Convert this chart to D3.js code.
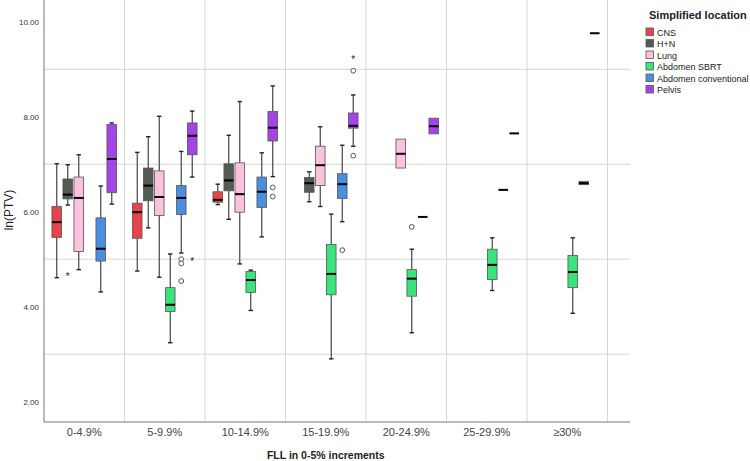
<!DOCTYPE html>
<html>
<head>
<meta charset="utf-8">
<script src="https://cdn.jsdelivr.net/npm/d3@7"></script>
<style>
  body { margin: 0; background: #fff; }
  svg { display: block; font-family: "Liberation Sans", Arial, sans-serif; }
</style>
</head>
<body>
<div id="chart"></div>
<script>
// categories on the x axis
var categories = ["0-4.9%", "5-9.9%", "10-14.9%", "15-19.9%", "20-24.9%", "25-29.9%", "\u226530%"];
var seriesNames = ["CNS", "H+N", "Lung", "Abdomen SBRT", "Abdomen conventional", "Pelvis"];
var seriesColors = ["#e8434a", "#525b56", "#fbc1de", "#3be37b", "#4a8ee0", "#a444e6"];
var yTicks = [2, 4, 6, 8, 10];
var yGrid = [3, 5, 7, 9];

// [lower whisker, q1, median, q3, upper whisker] per category, null = no box
var cnsStats = [[4.61, 5.46, 5.78, 6.11, 7.01], [4.75, 5.44, 5.99, 6.18, 7.25], [6.15, 6.20, 6.25, 6.42, 6.58], null, null, null, null];
var hnStats = [[6.14, 6.27, 6.36, 6.69, 6.99], [5.66, 6.23, 6.55, 6.92, 7.58], [5.84, 6.44, 6.66, 7.01, 7.61], [6.21, 6.41, 6.60, 6.72, 6.84], null, null, null];
var lungStats = [[4.78, 5.16, 6.29, 6.73, 7.20], [4.62, 5.92, 6.31, 6.86, 8.01], [4.90, 5.99, 6.37, 7.03, 8.32], [6.11, 6.55, 6.98, 7.38, 7.79], [6.92, 6.92, 7.22, 7.53, 7.53], null, null];
var sbrtStats = [null, [3.24, 3.90, 4.04, 4.40, 5.11], [3.92, 4.30, 4.56, 4.74, 4.77], [2.90, 4.25, 4.69, 5.31, 5.95], [3.45, 4.22, 4.59, 4.78, 5.21], [4.34, 4.57, 4.88, 5.21, 5.45], [3.86, 4.40, 4.73, 5.08, 5.45]];
var convStats = [[4.31, 4.96, 5.22, 5.87, 6.54], [5.13, 5.94, 6.29, 6.55, 7.27], [5.47, 6.09, 6.42, 6.73, 7.24], [5.79, 6.28, 6.58, 6.80, 7.40], [5.89, 5.89, 5.89, 5.89, 5.89], [6.46, 6.46, 6.46, 6.46, 6.46], [6.57, 6.57, 6.60, 6.64, 6.64]];
var pelvisStats = [[6.16, 6.40, 7.11, 7.84, 7.87], [6.73, 7.20, 7.60, 7.87, 8.12], [6.74, 7.49, 7.77, 8.11, 8.65], [7.38, 7.76, 7.81, 8.08, 8.46], [7.64, 7.64, 7.80, 7.97, 7.97], [7.65, 7.65, 7.65, 7.65, 7.65], [9.76, 9.76, 9.76, 9.76, 9.76]];

// outliers: category index, series index, value, marker
var outlierCat = [0, 1, 1, 1, 1, 2, 2, 3, 3, 3, 3, 4];
var outlierSeries = [1, 4, 4, 4, 5, 5, 5, 4, 5, 5, 5, 3];
var outlierValue = [4.65, 5.00, 4.91, 4.54, 4.98, 6.51, 6.32, 5.19, 7.18, 8.97, 9.22, 5.68];
var outlierKind = ["star", "circle", "circle", "circle", "star", "circle", "circle", "circle", "circle", "circle", "star", "circle"];

var allStats = [cnsStats, hnStats, lungStats, sbrtStats, convStats, pelvisStats];

var width = 750, height = 461;
var plot = { left: 44, right: 630, top: 0, bottom: 422 };

var svg = d3.select("#chart").append("svg")
    .attr("width", width)
    .attr("height", height);

var x = d3.scaleBand()
    .domain(categories)
    .range([plot.left, plot.left + 7 * 80.5]);

var slot = d3.scaleBand()
    .domain(seriesNames)
    .range([-33, 33]);

var y = d3.scaleLinear()
    .domain([1.57, 10.46])
    .range([plot.bottom, plot.top]);

var boxW = 9.6;

function slotX(ci, si) {
    return x(categories[ci]) + x.bandwidth() / 2 + slot(seriesNames[si]) + slot.bandwidth() / 2;
}

// grid
var grid = svg.append("g").attr("class", "grid");
grid.selectAll("line.h").data(yGrid).enter().append("line")
    .attr("class", "h")
    .attr("x1", plot.left).attr("x2", plot.right)
    .attr("y1", function(d) { return y(d); })
    .attr("y2", function(d) { return y(d); })
    .attr("stroke", "#d6d6d6").attr("stroke-width", 1);
grid.selectAll("line.v").data(categories).enter().append("line")
    .attr("class", "v")
    .attr("x1", function(d) { return x(d) + x.bandwidth(); })
    .attr("x2", function(d) { return x(d) + x.bandwidth(); })
    .attr("y1", plot.top).attr("y2", plot.bottom)
    .attr("stroke", "#d6d6d6").attr("stroke-width", 1);

// axes
var yAxis = svg.append("g")
    .attr("transform", "translate(" + plot.left + ",0)")
    .call(d3.axisLeft(y).tickValues(yTicks).tickFormat(d3.format(".2f")).tickSize(0).tickPadding(5));
yAxis.select(".domain").remove();
yAxis.selectAll("text").attr("font-size", 8).attr("fill", "#333");

var xAxis = svg.append("g")
    .attr("transform", "translate(0," + plot.bottom + ")")
    .call(d3.axisBottom(x).tickSize(0).tickPadding(6));
xAxis.select(".domain").remove();
xAxis.selectAll("text").attr("font-size", 11).attr("fill", "#444");

svg.append("line")
    .attr("x1", plot.left).attr("x2", plot.left)
    .attr("y1", plot.top).attr("y2", plot.bottom)
    .attr("stroke", "#777").attr("stroke-width", 1);
svg.append("line")
    .attr("x1", plot.left).attr("x2", plot.right)
    .attr("y1", plot.bottom).attr("y2", plot.bottom)
    .attr("stroke", "#777").attr("stroke-width", 1);

// boxes
var boxes = [];
allStats.forEach(function(stats, si) {
    stats.forEach(function(s, ci) {
        if (s) boxes.push({ si: si, ci: ci, s: s });
    });
});

var g = svg.append("g").attr("class", "boxes");
boxes.forEach(function(b) {
    var cx = slotX(b.ci, b.si);
    var s = b.s;
    var grp = g.append("g");
    if (s[0] < s[1]) {
        grp.append("line")
            .attr("x1", cx).attr("x2", cx).attr("y1", y(s[0])).attr("y2", y(s[1]))
            .attr("stroke", "#444").attr("stroke-width", 1.2);
        grp.append("line")
            .attr("x1", cx - 2.2).attr("x2", cx + 2.2).attr("y1", y(s[0])).attr("y2", y(s[0]))
            .attr("stroke", "#222").attr("stroke-width", 1.4);
    }
    if (s[4] > s[3]) {
        grp.append("line")
            .attr("x1", cx).attr("x2", cx).attr("y1", y(s[4])).attr("y2", y(s[3]))
            .attr("stroke", "#444").attr("stroke-width", 1.2);
        grp.append("line")
            .attr("x1", cx - 2.2).attr("x2", cx + 2.2).attr("y1", y(s[4])).attr("y2", y(s[4]))
            .attr("stroke", "#222").attr("stroke-width", 1.4);
    }
    if (s[3] - s[1] > 0.01) {
        grp.append("rect")
            .attr("x", cx - boxW / 2).attr("width", boxW)
            .attr("y", y(s[3])).attr("height", y(s[1]) - y(s[3]))
            .attr("fill", seriesColors[b.si])
            .attr("stroke", "#555").attr("stroke-width", 0.8);
    }
    grp.append("line")
        .attr("x1", cx - boxW / 2).attr("x2", cx + boxW / 2)
        .attr("y1", y(s[2])).attr("y2", y(s[2]))
        .attr("stroke", "#000").attr("stroke-width", 2);
});

// outliers
outlierValue.forEach(function(v, i) {
    var cx = slotX(outlierCat[i], outlierSeries[i]);
    if (outlierKind[i] == "circle") {
        svg.append("circle")
            .attr("cx", cx).attr("cy", y(v)).attr("r", 2.4)
            .attr("fill", "#fff").attr("stroke", "#555").attr("stroke-width", 1);
    } else {
        svg.append("text")
            .attr("x", cx).attr("y", y(v) + 4.5)
            .attr("text-anchor", "middle")
            .attr("font-size", 10).attr("fill", "#222")
            .text("*");
    }
});

// titles
svg.append("text")
    .attr("transform", "translate(13,210) rotate(-90)")
    .attr("text-anchor", "middle")
    .attr("font-size", 12).attr("fill", "#222")
    .text("ln(PTV)");

svg.append("text")
    .attr("x", (plot.left + x.range()[1]) / 2)
    .attr("y", 459)
    .attr("text-anchor", "middle")
    .attr("font-size", 10.5).attr("font-weight", "bold").attr("fill", "#222")
    .text("FLL in 0-5% increments");

// legend
var legend = svg.append("g").attr("transform", "translate(646,0)");
legend.append("text")
    .attr("x", 3).attr("y", 19)
    .attr("font-size", 11).attr("font-weight", "bold").attr("fill", "#222")
    .text("Simplified location");
var item = legend.selectAll("g.item").data(seriesNames).enter().append("g")
    .attr("class", "item")
    .attr("transform", function(d, i) { return "translate(0," + (28 + i * 11.5) + ")"; });
item.append("rect")
    .attr("width", 7.5).attr("height", 7.5)
    .attr("fill", function(d, i) { return seriesColors[i]; })
    .attr("stroke", "#555").attr("stroke-width", 0.8);
item.append("text")
    .attr("x", 11).attr("y", 7.5)
    .attr("font-size", 9).attr("fill", "#222")
    .text(function(d) { return d; });
</script>
</body>
</html>
